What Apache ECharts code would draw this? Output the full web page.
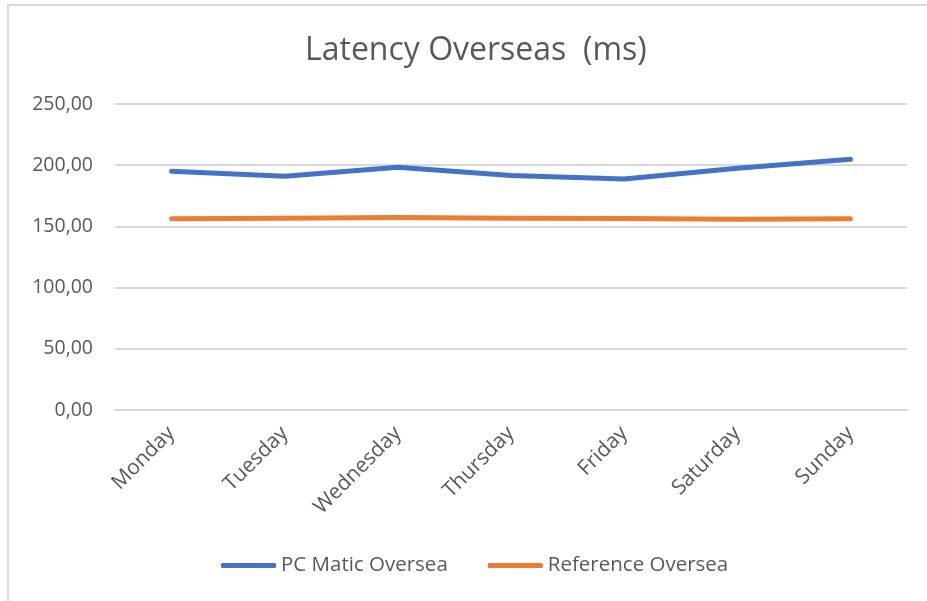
<!DOCTYPE html>
<html>
<head>
<meta charset="utf-8">
<script src="https://cdn.jsdelivr.net/npm/echarts@6/dist/echarts.min.js"></script>
<style>
  html, body { margin: 0; padding: 0; background: #fff; }
  #chart { width: 927px; height: 601px; }
</style>
</head>
<body>
<div id="chart"></div>
<script>
var days = ['Monday', 'Tuesday', 'Wednesday', 'Thursday', 'Friday', 'Saturday', 'Sunday'];
var pcMatic = [195.1, 191.0, 198.4, 191.6, 188.8, 197.5, 204.8];
var reference = [156.3, 156.6, 157.3, 156.7, 156.4, 155.9, 156.3];

var textColor = '#595959';
var font = '"Open Sans", Calibri, sans-serif';

var myChart = echarts.init(document.getElementById('chart'));
myChart.setOption({
    animation: false,
    textStyle: { fontFamily: font },
    graphic: [{
        type: 'rect',
        shape: { x: 8, y: 5, width: 940, height: 620 },
        style: { fill: 'none', stroke: '#d9d9d9', lineWidth: 2 }
    }],
    title: {
        text: 'Latency Overseas  (ms)',
        left: 300,
        top: 30,
        textStyle: { color: textColor, fontSize: 32, fontWeight: 'normal', fontFamily: font }
    },
    legend: {
        bottom: 20,
        left: 216,
        itemWidth: 55,
        itemHeight: 5,
        itemGap: 40,
        icon: 'roundRect',
        textStyle: { color: textColor, fontSize: 20.5, fontFamily: font },
        data: ['PC Matic Oversea', 'Reference Oversea']
    },
    grid: { left: 115, right: 20, top: 104, bottom: 191 },
    xAxis: {
        type: 'category',
        data: days,
        boundaryGap: true,
        axisLine: { lineStyle: { color: '#d9d9d9', width: 2 } },
        axisTick: { show: false },
        axisLabel: { color: textColor, fontSize: 21, rotate: 45, margin: 20, fontFamily: font }
    },
    yAxis: {
        type: 'value',
        min: 0,
        max: 250,
        interval: 50,
        axisLine: { show: false },
        axisTick: { show: false },
        splitLine: { lineStyle: { color: '#d9d9d9', width: 2 } },
        axisLabel: {
            color: textColor, fontSize: 19.5, margin: 22, fontFamily: font,
            formatter: function (v) { return v.toFixed(2).replace('.', ','); }
        }
    },
    series: [{
        name: 'PC Matic Oversea',
        type: 'line',
        data: pcMatic,
        symbol: 'none',
        lineStyle: { color: '#4472C4', width: 5, cap: 'round', join: 'round' },
        itemStyle: { color: '#4472C4' }
    }, {
        name: 'Reference Oversea',
        type: 'line',
        data: reference,
        symbol: 'none',
        lineStyle: { color: '#ED7D31', width: 5, cap: 'round', join: 'round' },
        itemStyle: { color: '#ED7D31' }
    }]
});
</script>
</body>
</html>
